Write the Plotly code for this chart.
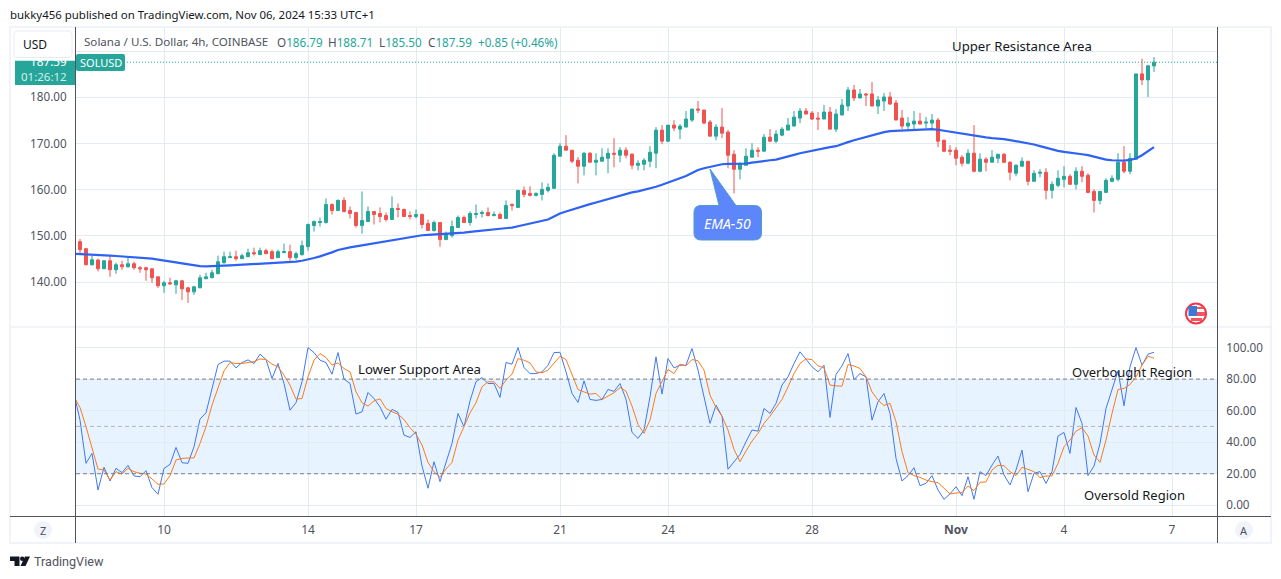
import pandas as pd
import plotly.graph_objects as go

W, H = 1281, 579

# 4h SOL/USD candles
opens = [148.76, 147.24, 143.76, 144.78, 142.89, 144.63, 142.68, 143.76, 143.33, 143.98, 143.11, 143.11, 142.89, 141.15, 139.20, 139.85, 139.41, 140.28, 138.76, 137.89,
         138.76, 140.72, 140.94, 141.81, 144.20, 145.29, 145.50, 145.07, 145.50, 146.37, 145.94, 146.81, 146.59, 145.29, 146.37, 146.59, 145.29, 145.94, 147.68, 152.24,
         152.89, 152.89, 156.81, 155.50, 157.68, 155.50, 155.07, 152.24, 153.11, 155.29, 154.85, 154.42, 153.55, 155.94, 155.72, 154.42, 154.20, 154.64, 152.68, 151.16,
         152.90, 149.20, 150.07, 151.81, 153.98, 152.90, 154.64, 154.85, 155.07, 154.42, 154.64, 153.77, 156.81, 156.16, 159.85, 159.20, 158.77, 158.98, 159.85, 160.29,
         167.24, 169.42, 168.55, 166.38, 165.07, 167.90, 165.94, 166.16, 166.81, 167.90, 167.46, 168.55, 167.68, 165.29, 165.51, 166.16, 167.90, 172.90, 170.51, 173.98,
         173.11, 173.55, 175.07, 177.46, 177.24, 174.64, 171.59, 173.55, 172.46, 167.68, 164.42, 165.29, 167.03, 168.55, 168.33, 171.37, 170.51, 171.81, 172.90, 173.77,
         175.50, 177.03, 176.59, 175.50, 175.29, 176.81, 173.11, 176.16, 178.11, 181.59, 179.85, 180.72, 180.72, 178.11, 179.20, 180.07, 178.77, 175.50, 173.77, 174.20,
         174.85, 174.42, 174.42, 175.07, 170.73, 168.55, 168.55, 167.03, 165.73, 167.90, 163.99, 166.60, 165.94, 166.81, 167.68, 165.94, 163.55, 165.08, 166.16, 161.81,
         163.55, 163.77, 159.86, 160.94, 162.25, 162.90, 161.16, 163.99, 163.12, 159.64, 157.68, 159.42, 161.81, 162.25, 165.94, 163.99, 166.60, 185.07, 183.77, 186.79]
highs = [149.34, 147.39, 145.72, 145.07, 144.63, 145.72, 144.20, 144.63, 145.50, 144.42, 143.47, 143.33, 142.89, 141.15, 140.28, 140.94, 140.50, 140.50, 138.98, 139.20,
         141.59, 142.02, 142.68, 145.72, 146.59, 146.59, 146.81, 146.15, 147.24, 147.46, 147.46, 147.24, 147.02, 147.02, 148.33, 148.11, 146.59, 148.98, 152.68, 153.33,
         153.98, 158.11, 157.02, 157.89, 158.33, 156.37, 155.07, 159.63, 156.37, 155.29, 156.16, 155.07, 158.55, 157.03, 155.94, 155.29, 155.72, 154.85, 153.55, 153.33,
         152.90, 150.94, 153.33, 154.42, 154.42, 155.29, 156.81, 155.51, 156.16, 155.29, 155.07, 157.68, 157.03, 159.85, 160.72, 160.72, 159.42, 161.59, 161.37, 167.90,
         170.07, 171.81, 168.55, 167.03, 168.11, 168.11, 167.90, 168.98, 168.98, 171.16, 169.20, 169.20, 167.90, 166.38, 166.81, 169.42, 173.55, 173.98, 173.98, 175.07,
         174.20, 177.03, 177.46, 179.20, 177.24, 175.07, 174.20, 177.68, 172.90, 168.55, 165.94, 168.98, 170.07, 169.20, 172.03, 173.11, 172.90, 173.55, 175.50, 177.03,
         177.68, 177.68, 177.03, 176.81, 178.33, 177.90, 177.46, 179.64, 182.24, 182.68, 181.81, 180.94, 183.33, 180.29, 180.94, 181.16, 179.42, 177.24, 175.72, 177.03,
         176.59, 175.72, 176.38, 175.51, 170.73, 169.64, 169.20, 167.47, 168.77, 173.99, 167.90, 167.03, 168.55, 167.68, 167.90, 166.16, 165.51, 167.03, 166.16, 164.21,
         164.42, 164.64, 161.81, 164.21, 165.08, 163.34, 164.86, 165.08, 163.55, 160.07, 159.64, 162.47, 163.12, 167.90, 169.42, 167.90, 185.07, 188.34, 187.03, 188.71]
lows = [145.86, 143.62, 143.55, 142.31, 142.89, 141.15, 141.81, 142.68, 143.11, 142.68, 142.02, 140.28, 139.85, 138.76, 137.68, 139.41, 137.46, 136.15, 135.50, 137.24,
        138.76, 140.72, 140.94, 141.81, 143.98, 145.29, 144.63, 145.07, 145.50, 145.72, 145.94, 146.15, 145.07, 145.29, 146.37, 144.63, 144.85, 145.72, 146.81, 150.94,
        152.02, 152.68, 154.63, 155.50, 155.07, 153.76, 151.81, 150.50, 153.11, 152.46, 152.90, 153.11, 153.55, 153.98, 154.20, 153.55, 153.77, 151.59, 151.16, 150.94,
        147.68, 149.20, 149.64, 151.81, 152.90, 152.24, 153.77, 153.98, 154.20, 154.20, 153.77, 153.77, 155.51, 156.16, 158.33, 158.55, 158.55, 157.68, 159.42, 160.29,
        167.24, 168.55, 165.72, 161.37, 163.11, 165.94, 163.11, 166.16, 163.55, 164.85, 165.94, 166.81, 164.42, 164.20, 164.20, 164.85, 164.64, 169.85, 170.29, 172.68,
        170.94, 173.55, 174.64, 176.59, 174.20, 171.59, 170.72, 171.16, 164.64, 159.20, 162.24, 165.29, 167.03, 167.03, 168.33, 170.29, 170.07, 171.59, 172.90, 173.77,
        174.42, 176.37, 175.07, 172.90, 175.29, 173.11, 172.46, 176.16, 177.03, 179.20, 179.85, 178.11, 178.11, 176.37, 177.03, 178.33, 175.07, 173.11, 173.11, 173.11,
        174.20, 173.33, 173.34, 169.20, 168.12, 167.47, 165.29, 165.08, 165.51, 163.77, 163.77, 163.99, 165.94, 165.73, 165.73, 162.03, 162.90, 165.08, 160.94, 161.81,
        162.68, 157.90, 158.12, 160.51, 160.51, 161.16, 160.07, 161.60, 159.20, 155.07, 156.81, 159.42, 161.60, 161.81, 163.55, 163.34, 166.60, 182.68, 180.07, 185.50]
closes = [147.02, 143.76, 144.85, 142.89, 144.63, 142.68, 143.76, 143.33, 143.98, 143.11, 142.89, 142.68, 140.94, 139.20, 139.85, 139.63, 140.28, 138.55, 137.89, 138.98,
          140.94, 141.15, 142.02, 144.42, 145.50, 145.50, 145.07, 145.72, 146.37, 146.15, 146.81, 146.15, 145.07, 146.59, 146.59, 145.29, 146.15, 147.89, 152.46, 153.11,
          153.11, 156.81, 155.50, 157.68, 155.29, 154.85, 152.24, 153.33, 155.29, 154.64, 154.20, 153.55, 155.94, 155.72, 154.20, 154.20, 154.64, 152.46, 151.16, 152.90,
          149.20, 150.51, 152.03, 153.98, 152.90, 154.85, 154.85, 155.07, 154.42, 154.64, 153.77, 156.59, 156.59, 159.85, 158.98, 158.77, 159.20, 160.07, 160.51, 167.46,
          169.42, 168.55, 166.16, 165.07, 167.90, 165.94, 166.38, 167.03, 167.90, 167.68, 168.55, 167.46, 165.29, 165.72, 166.38, 168.11, 172.90, 170.51, 173.98, 173.33,
          173.77, 175.29, 177.46, 177.24, 174.42, 171.59, 173.55, 172.24, 167.46, 164.42, 165.51, 167.24, 168.55, 168.33, 171.37, 170.51, 172.03, 173.11, 173.98, 175.72,
          177.03, 176.37, 175.29, 175.29, 176.81, 173.11, 176.37, 178.33, 181.59, 179.85, 180.72, 180.51, 178.11, 179.42, 180.07, 178.55, 175.07, 173.77, 174.42, 174.85,
          174.20, 174.64, 175.07, 170.51, 168.33, 168.33, 166.81, 165.73, 167.90, 163.99, 166.60, 165.94, 167.03, 167.68, 165.94, 163.77, 165.29, 166.16, 161.81, 163.55,
          163.77, 159.86, 161.16, 162.47, 162.90, 161.16, 163.99, 162.90, 159.42, 157.68, 159.64, 162.03, 162.47, 165.94, 163.99, 166.81, 185.07, 183.77, 186.81, 187.59]

# indicators start one bar before the first candle, that point is cut by the axis edge
ema_50 = [146.12, 146.08, 146.01, 145.94, 145.86, 145.86, 145.72, 145.65, 145.57, 145.50, 145.43, 145.36, 145.21, 145.07, 144.85, 144.71, 144.49, 144.27, 144.05, 143.84, 143.62,
          143.47, 143.40, 143.40, 143.47, 143.55, 143.62, 143.69, 143.76, 143.84, 143.91, 143.98, 144.05, 144.13, 144.20, 144.27, 144.34, 144.42, 144.63, 144.85, 145.21,
          145.57, 145.94, 146.44, 146.95, 147.31, 147.53, 147.75, 147.97, 148.26, 148.48, 148.69, 148.91, 149.13, 149.42, 149.64, 149.85, 150.07, 150.14, 150.22, 150.29,
          150.36, 150.43, 150.51, 150.58, 150.72, 150.87, 151.01, 151.08, 151.23, 151.30, 151.45, 151.59, 151.81, 152.10, 152.39, 152.61, 152.90, 153.11, 153.55, 154.20,
          154.85, 155.29, 155.72, 156.09, 156.52, 156.88, 157.24, 157.61, 158.04, 158.40, 158.84, 159.20, 159.42, 159.64, 159.93, 160.29, 160.65, 161.08, 161.52, 161.95,
          162.39, 162.97, 163.62, 164.27, 164.64, 164.93, 165.29, 165.51, 165.58, 165.58, 165.58, 165.65, 165.87, 166.09, 166.23, 166.38, 166.52, 166.81, 167.17, 167.53,
          167.90, 168.19, 168.48, 168.77, 168.98, 169.20, 169.42, 169.78, 170.29, 170.72, 171.08, 171.45, 171.81, 172.17, 172.46, 172.68, 172.75, 172.82, 172.82, 172.90,
          172.97, 173.04, 173.12, 172.97, 172.76, 172.54, 172.25, 172.03, 171.81, 171.60, 171.45, 171.31, 171.16, 171.09, 170.94, 170.73, 170.51, 170.29, 170.07, 169.78,
          169.42, 169.06, 168.70, 168.41, 168.19, 168.05, 167.90, 167.68, 167.47, 167.10, 166.74, 166.52, 166.38, 166.31, 166.31, 166.45, 166.74, 167.47, 168.41, 169.21]
stoch_k = [70.9, 54.0, 26.6, 32.9, 9.7, 24.1, 15.4, 23.4, 20.7, 25.3, 18.6, 18.1, 21.9, 11.2, 7.0, 23.4, 25.9, 36.7, 27.0, 26.6, 37.1,
           54.6, 58.6, 74.1, 89.2, 91.4, 91.4, 87.1, 90.5, 92.2, 89.9, 95.8, 92.4, 80.4, 89.9, 77.2, 60.3, 65.0, 78.3, 100.0, 96.8,
           92.0, 90.5, 83.1, 96.8, 80.0, 77.2, 57.8, 59.3, 71.5, 67.7, 62.4, 54.6, 60.8, 58.9, 44.5, 43.0, 46.6, 24.9, 10.8, 27.6,
           15.0, 26.6, 39.2, 58.2, 49.8, 66.2, 78.3, 81.0, 77.2, 77.2, 68.4, 90.5, 89.5, 100.0, 87.3, 83.5, 83.5, 84.6, 88.8, 96.8,
           97.0, 84.6, 70.9, 65.2, 78.9, 67.1, 66.5, 67.1, 73.4, 72.2, 77.2, 67.3, 46.2, 42.4, 47.7, 68.8, 94.1, 70.5, 93.0, 87.1,
           88.8, 88.8, 99.4, 85.7, 68.8, 51.9, 63.5, 56.5, 22.8, 27.6, 32.3, 40.3, 47.7, 47.0, 61.4, 58.2, 64.6, 76.2, 81.4, 89.9,
           97.3, 92.6, 87.8, 84.6, 88.8, 55.7, 82.9, 88.4, 96.2, 79.7, 83.5, 81.4, 54.0, 65.6, 70.9, 58.2, 29.7, 15.4, 18.8, 23.8,
           12.4, 13.9, 18.8, 9.7, 3.8, 7.2, 11.8, 6.1, 18.1, 3.8, 21.3, 18.8, 25.5, 31.2, 19.2, 12.9, 22.4, 35.0, 8.6, 20.3,
           21.3, 13.9, 21.3, 43.9, 46.2, 32.9, 62.0, 51.9, 18.8, 24.9, 39.2, 61.4, 73.0, 85.2, 63.1, 87.8, 100.0, 88.8, 95.8, 97.0]
stoch_d = [68.8, 62.0, 49.8, 37.1, 23.0, 22.4, 16.0, 21.3, 19.8, 23.4, 21.3, 20.3, 19.8, 16.7, 13.3, 13.5, 18.8, 28.7, 29.7, 30.0, 30.0,
           39.2, 49.8, 63.5, 75.1, 85.2, 90.5, 89.9, 89.9, 90.3, 91.1, 92.8, 92.4, 89.5, 87.8, 82.5, 76.2, 67.3, 67.7, 81.4, 92.0,
           96.2, 93.7, 88.8, 90.3, 86.7, 84.6, 71.9, 65.0, 62.9, 66.2, 67.5, 61.4, 59.3, 57.8, 54.4, 49.2, 45.1, 38.2, 27.2, 21.3,
           17.7, 23.0, 27.2, 41.4, 49.8, 58.6, 65.0, 75.1, 78.3, 78.3, 74.1, 79.3, 83.1, 93.0, 92.0, 90.3, 84.6, 84.0, 85.7, 89.9,
           94.5, 92.4, 83.5, 73.4, 71.9, 70.5, 70.9, 67.1, 69.2, 71.3, 74.7, 72.4, 62.9, 51.3, 45.6, 54.0, 70.9, 78.3, 86.1, 83.5,
           89.5, 88.4, 92.4, 91.6, 85.7, 69.8, 62.0, 56.5, 47.7, 35.4, 27.6, 34.4, 40.7, 45.6, 51.9, 56.5, 61.8, 67.1, 75.1, 83.5,
           89.9, 92.8, 92.4, 88.4, 87.1, 76.2, 75.7, 75.5, 89.2, 88.4, 86.7, 81.4, 71.9, 66.7, 63.3, 64.6, 53.0, 34.0, 20.7, 18.8,
           17.7, 16.0, 15.0, 14.3, 10.8, 7.2, 7.8, 8.0, 12.2, 9.3, 14.6, 14.8, 22.4, 25.3, 25.1, 21.3, 18.8, 24.1, 22.8, 21.3,
           17.5, 18.6, 18.6, 26.6, 37.1, 41.4, 47.0, 49.2, 43.9, 31.9, 27.2, 41.4, 58.2, 73.4, 74.1, 76.6, 81.4, 88.8, 94.5, 93.3]

day_ticks = ["2024-10-10", "2024-10-14", "2024-10-17", "2024-10-21", "2024-10-24", "2024-10-28", "2024-11-01", "2024-11-04", "2024-11-07"]
day_labels = ["10", "14", "17", "21", "24", "28", "<b>Nov</b>", "4", "7"]
price_ticks = [140, 150, 160, 170, 180, 190]
price_labels = ["140.00", "150.00", "160.00", "170.00", "180.00", ""]  # 190 is behind the USD box
stoch_ticks = [0, 20, 40, 60, 80, 100]

GREEN = "#26a69a"
RED = "#ef5350"
GRID = "#e3ebf2"
DARK = "#50535e"
TEXT = "#131722"
FONT = "Noto Sans"

bar_step = pd.Timedelta(hours=4)
bar_dates = pd.date_range("2024-10-07 16:00", periods=len(closes), freq="4h")
ind_dates = pd.date_range(bar_dates[0] - bar_step, periods=len(stoch_k), freq="4h")
x_range = [bar_dates[0] - bar_step * 0.667, bar_dates[0] + bar_step * 189.5]
y_range = [130.5, 195.0]


# page pixels to paper fractions
def px(x):
    return x / W


def py(y):
    return 1 - y / H


def pixel_path(points):
    return "M " + " L ".join(f"{px(x):.5f},{py(y):.5f}" for x, y in points) + " Z"


def round_box(x0, y0, x1, y1, r, extra=None):
    # rounded rectangle, extra points are put into the top edge
    top = extra or []
    p = f"M {px(x0 + r):.5f},{py(y0):.5f} "
    for x, y in top:
        p += f"L {px(x):.5f},{py(y):.5f} "
    p += f"L {px(x1 - r):.5f},{py(y0):.5f} Q {px(x1):.5f},{py(y0):.5f} {px(x1):.5f},{py(y0 + r):.5f} "
    p += f"L {px(x1):.5f},{py(y1 - r):.5f} Q {px(x1):.5f},{py(y1):.5f} {px(x1 - r):.5f},{py(y1):.5f} "
    p += f"L {px(x0 + r):.5f},{py(y1):.5f} Q {px(x0):.5f},{py(y1):.5f} {px(x0):.5f},{py(y1 - r):.5f} "
    p += f"L {px(x0):.5f},{py(y0 + r):.5f} Q {px(x0):.5f},{py(y0):.5f} {px(x0 + r):.5f},{py(y0):.5f} Z"
    return p


def paper_shape(kind, x0, y0, x1, y1, fill=None, line=None, width=1, layer="above"):
    return dict(type=kind, xref="paper", yref="paper", x0=px(x0), y0=py(y0), x1=px(x1), y1=py(y1),
                fillcolor=fill, line=dict(color=line or "rgba(0,0,0,0)", width=width if line else 0), layer=layer)


def path_shape(path, fill=None, line=None, width=1, layer="above"):
    return dict(type="path", xref="paper", yref="paper", path=path, fillcolor=fill,
                line=dict(color=line or "rgba(0,0,0,0)", width=width if line else 0), layer=layer)


def note(x, y, text, size=13, color=TEXT, anchor="left", family=FONT):
    return dict(xref="paper", yref="paper", x=px(x), y=py(y), text=text, showarrow=False, xanchor=anchor,
                yanchor="middle", font=dict(family=family, size=size, color=color), borderpad=0, borderwidth=0)


def ohlc_note(x, label, value):
    return note(x, 41.5, f'{label}<span style="color:{GREEN}">{value:.2f}</span>', size=11.7, color=DARK)


fig = go.Figure()
fig.add_trace(go.Candlestick(x=bar_dates, open=opens, high=highs, low=lows, close=closes,
                             increasing=dict(line=dict(color=GREEN, width=1), fillcolor=GREEN),
                             decreasing=dict(line=dict(color=RED, width=1), fillcolor=RED),
                             whiskerwidth=0, xaxis="x", yaxis="y", hoverinfo="skip"))
fig.add_trace(go.Scatter(x=ind_dates, y=ema_50, mode="lines", line=dict(color="#2e62f2", width=2.2), xaxis="x", yaxis="y", hoverinfo="skip"))
# last price line, its own axis carries the price label that runs under the USD box
fig.add_trace(go.Scatter(x=x_range, y=[closes[-1], closes[-1]], mode="lines", line=dict(color=GREEN, width=1, dash="1px,2px"),
                         xaxis="x", yaxis="y3", hoverinfo="skip"))
fig.add_trace(go.Scatter(x=ind_dates, y=stoch_k, mode="lines", line=dict(color="#3f78f5", width=1), xaxis="x2", yaxis="y2", hoverinfo="skip"))
fig.add_trace(go.Scatter(x=ind_dates, y=stoch_d, mode="lines", line=dict(color="#ff7a1a", width=1), xaxis="x2", yaxis="y2", hoverinfo="skip"))

shapes = [
    # overbought / oversold band and levels
    dict(type="rect", xref="x2 domain", yref="y2", x0=0, x1=1, y0=20, y1=80, fillcolor="rgba(33,150,243,0.11)", line=dict(width=0), layer="below"),
    dict(type="line", xref="x2 domain", yref="y2", x0=0, x1=1, y0=80, y1=80, line=dict(color="#787b86", width=1, dash="4px,3px")),
    dict(type="line", xref="x2 domain", yref="y2", x0=0, x1=1, y0=50, y1=50, line=dict(color="#b2b5be", width=1, dash="4px,3px")),
    dict(type="line", xref="x2 domain", yref="y2", x0=0, x1=1, y0=20, y1=20, line=dict(color="#787b86", width=1, dash="4px,3px")),
    # frame and pane borders
    paper_shape("rect", 10, 27, 1271, 543, line="#f0f3fa", width=2),
    paper_shape("line", 10, 327, 1271, 327, line="#e6e9f0", width=1),
    paper_shape("line", 10, 516.5, 1271, 516.5, line=DARK, width=1),
    paper_shape("line", 75.5, 27, 75.5, 543, line=DARK, width=1),
    paper_shape("line", 1217.5, 27, 1217.5, 543, line=DARK, width=1),
    # last price tags, the white strip cuts the top of the price label like the USD box margin does
    paper_shape("rect", 15, 60.5, 75.5, 85, fill=GREEN, layer="below"),
    paper_shape("rect", 15, 55, 75, 60.5, fill="#ffffff"),
    path_shape(round_box(76, 54, 125, 71, 2), fill=GREEN),
    path_shape(round_box(14, 31, 72, 57.5, 4), fill="#ffffff", line="#e8ebf2", width=1),
    # EMA-50 callout
    path_shape(round_box(694, 205.5, 761.5, 240, 7, extra=[(719, 205.5), (710, 169), (736, 205.5)]), fill="#5c86fa", line="#4c9fc8", width=1),
    # flag badge
    paper_shape("circle", 1186, 303.5, 1206, 323.5, fill="#ffffff", line="#f23645", width=2),
    paper_shape("rect", 1189, 307, 1204, 309, fill="#f7525f"),
    paper_shape("rect", 1197, 312, 1205, 316, fill="#f7525f"),
    paper_shape("rect", 1191, 318, 1202, 321, fill="#f7525f"),
    paper_shape("rect", 1188.5, 306, 1197, 316, fill="#3c78d8"),
    # scale buttons
    paper_shape("circle", 34, 521, 52, 539, fill="#f0f3fa"),
    paper_shape("circle", 1235, 521, 1253, 539, fill="#f0f3fa"),
    # TradingView logo
    path_shape(pixel_path([(10, 556.5), (19.5, 556.5), (19.5, 566), (14.5, 566), (14.5, 561), (10, 561)]), fill=TEXT),
    paper_shape("circle", 20, 556.5, 24.5, 561, fill=TEXT),
    path_shape(pixel_path([(30, 556.5), (25.5, 566), (20.5, 566), (25, 556.5)]), fill=TEXT),
]

annotations = [
    note(10, 14, "bukky456 published on TradingView.com, Nov 06, 2024 15:33 UTC+1", size=11.45),
    note(23, 44.5, "USD", size=12),
    note(84, 41.5, "Solana / U.S. Dollar, 4h, COINBASE", size=11.6, color=DARK),
    ohlc_note(277, "O", opens[-1]),
    ohlc_note(328, "H", highs[-1]),
    ohlc_note(379, "L", lows[-1]),
    ohlc_note(428, "C", closes[-1]),
    note(478, 41.5, "+0.85 (+0.46%)", size=11.7, color=GREEN),
    note(80, 62.5, "SOLUSD", size=11, color="#ffffff"),
    note(67, 77, "01:26:12", size=11.5, color="#d5efeb", anchor="right"),
    note(952, 46, "Upper Resistance Area", size=13.2),
    note(358, 369, "Lower Support Area", size=13.2),
    note(1072, 372, "Overbought Region", size=13),
    note(1084, 495, "Oversold Region", size=13),
    note(727.5, 223, "<i>EMA-50</i>", size=14, color="#ffffff", anchor="center"),
    note(43, 530, "Z", size=11, color=DARK, anchor="center"),
    note(1244, 530, "A", size=11, color=DARK, anchor="center"),
    note(34, 561, "TradingView", size=12.6, color=DARK, family="Roboto"),
]

fig.update_layout(
    width=W, height=H, margin=dict(l=0, r=0, t=0, b=0), paper_bgcolor="white", plot_bgcolor="white",
    showlegend=False, font=dict(family=FONT, size=12, color=DARK), shapes=shapes, annotations=annotations,
    xaxis=dict(domain=[px(76), px(1217)], range=x_range, anchor="y", type="date", rangeslider=dict(visible=False),
               tickmode="array", tickvals=day_ticks, ticktext=day_labels, showticklabels=False,
               showgrid=True, gridcolor=GRID, gridwidth=1, zeroline=False, ticks=""),
    yaxis=dict(domain=[py(326), py(28)], range=y_range, anchor="x", side="left",
               tickmode="array", tickvals=price_ticks, ticktext=price_labels,
               showgrid=True, gridcolor=GRID, gridwidth=1, zeroline=False, ticks="outside", ticklen=6,
               tickcolor="rgba(0,0,0,0)", tickfont=dict(family=FONT, size=11.7, color=DARK)),
    yaxis3=dict(overlaying="y", range=y_range, anchor="x", side="left",
                tickmode="array", tickvals=[closes[-1]], ticktext=[f"{closes[-1]:.2f}"],
                showgrid=False, zeroline=False, ticks="outside", ticklen=6,
                tickcolor="rgba(0,0,0,0)", tickfont=dict(family=FONT, size=11.7, color="#ffffff")),
    xaxis2=dict(domain=[px(76), px(1217)], range=x_range, anchor="y2", type="date", matches="x",
                tickmode="array", tickvals=day_ticks, ticktext=day_labels,
                showgrid=True, gridcolor=GRID, gridwidth=1, zeroline=False, ticks="outside", ticklen=3,
                tickcolor="rgba(0,0,0,0)", tickfont=dict(family=FONT, size=12, color=DARK)),
    yaxis2=dict(domain=[py(516), py(328)], range=[-6.8, 112.4], anchor="x2", side="right",
                tickmode="array", tickvals=stoch_ticks, ticktext=[f"{v:.2f}" for v in stoch_ticks],
                showgrid=True, gridcolor=GRID, gridwidth=1, zeroline=False, ticks="outside", ticklen=6,
                tickcolor="rgba(0,0,0,0)", tickfont=dict(family=FONT, size=11.7, color=DARK)),
)

fig.write_html("out.html", config={"displayModeBar": False}, post_script="document.body.style.margin='0';")
